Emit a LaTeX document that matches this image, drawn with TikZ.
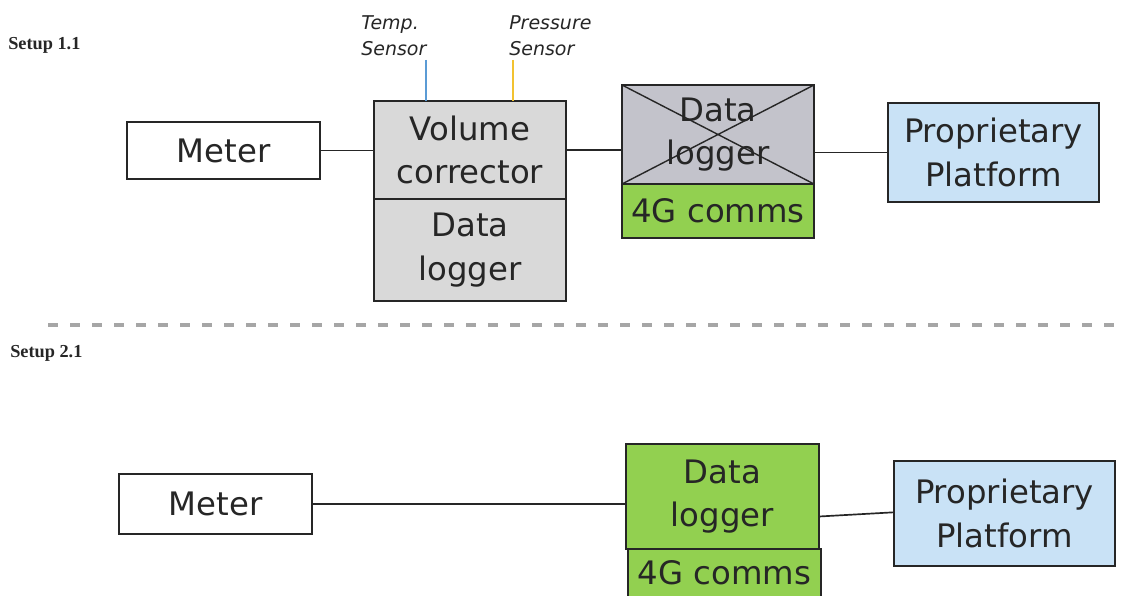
\documentclass[tikz,border=0pt]{standalone}
\usepackage{fontspec}
\setmainfont{DejaVu Sans}
\newfontfamily\setupfont{Liberation Serif}
\usetikzlibrary{positioning}
\definecolor{trait}{HTML}{262626}
\definecolor{gristiret}{HTML}{A6A6A6}
\definecolor{grisclair}{HTML}{D9D9D9}
\definecolor{grisbleu}{HTML}{C3C3CB}
\definecolor{vert}{HTML}{92D050}
\definecolor{bleuclair}{HTML}{C9E2F6}
\definecolor{bleucapteur}{HTML}{5B9BD5}
\definecolor{jaune}{HTML}{F2C230}

\begin{document}
\begin{tikzpicture}[x=0.025cm,y=-0.025cm,
  bloc/.style={draw=trait,line width=1.2pt,outer sep=0pt,inner sep=0pt,align=center,
    font=\fontsize{23}{31}\selectfont,text=trait},
  taille/.style 2 args={minimum width=#1*0.025cm,minimum height=#2*0.025cm},
  lien/.style={draw=trait,line width=1.2pt},
  capteur/.style={font=\fontsize{13.5}{19}\selectfont\itshape,align=left,anchor=north west,inner sep=0pt,text=trait},
  titre/.style={font=\setupfont\fontsize{13}{15}\selectfont\bfseries,anchor=west,inner sep=0pt,text=trait}]
  \clip (0,0) rectangle (1124,596);

  % setup 1.1
  \node[titre] (titreA) at (8,45) {Setup 1.1};
  \node[bloc,taille={193}{57}] (meterA) at (223.5,150.5) {Meter};
  \node[bloc,taille={192}{98},fill=grisclair] (vc) at (470,150) {Volume\\corrector};
  \node[bloc,taille={192}{102},fill=grisclair,below=0pt of vc] (dlA) {Data\\logger};
  \node[bloc,taille={192}{99},fill=grisbleu] (dlx) at (718,134.5) {Data\\logger};
  \node[bloc,taille={192}{54},fill=vert,below=0pt of dlx] (comA) {4G comms};
  \node[bloc,taille={211}{99},fill=bleuclair] (platA) at (993.5,152.5) {Proprietary\\Platform};
  \draw[trait,line width=1pt] (dlx.north west) -- (dlx.south east)
    (dlx.south west) -- (dlx.north east);

  \node[capteur] (tempL) at (361,15) {Temp.\\Sensor};
  \node[capteur] (presL) at (509,15) {Pressure\\Sensor};
  \coordinate (tempS) at (426,60);
  \coordinate (presS) at (513,60);
  \draw[bleucapteur,line width=1.2pt] (tempS) -- (tempS |- vc.north);
  \draw[jaune,line width=1.2pt] (presS) -- (presS |- vc.north);

  \draw[lien] (meterA.east) -- (meterA.east -| vc.west);
  \draw[lien] (vc.east) -- (vc.east -| dlx.west);
  \draw[lien] (platA.west -| dlx.east) -- (platA.west);

  % separation
  \draw[gristiret,line width=2.2pt,dash pattern=on 0.25cm off 0.3cm] (48,325) -- (1124,325);

  % setup 2.1
  \node[titre] (titreB) at (10,353) {Setup 2.1};
  \node[bloc,taille={193}{60}] (meterB) at (215.5,504) {Meter};
  \node[bloc,taille={193}{105},fill=vert] (dlB) at (722.5,496.5) {Data\\logger};
  \node[bloc,taille={193}{60},fill=vert,below=0pt of dlB,xshift=0.05cm,text depth=0.35cm] (comB) {4G comms};
  \node[bloc,taille={221}{105},fill=bleuclair] (platB) at (1004.5,513.5) {Proprietary\\Platform};

  \draw[lien] (meterB.east) -- (meterB.east -| dlB.west);
  \draw[lien] ([yshift=-0.5cm]dlB.east) -- ([yshift=0.03cm]platB.west);
\end{tikzpicture}
\end{document}
